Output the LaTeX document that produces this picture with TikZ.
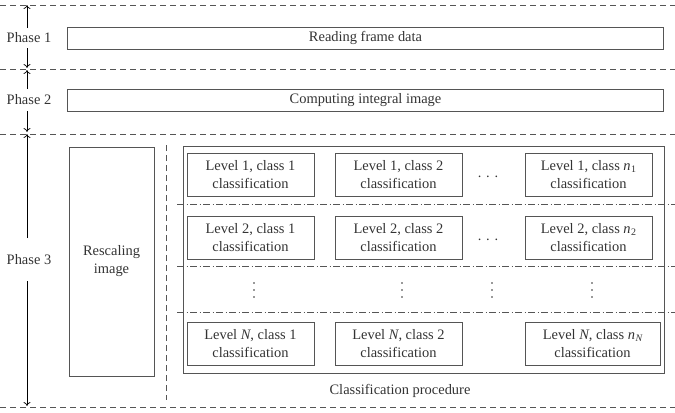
\documentclass[tikz,border=0pt]{standalone}
\usepackage{fontspec}
\setmainfont{Liberation Serif}
\usetikzlibrary{arrows.meta}
\definecolor{ln}{HTML}{555555}
\definecolor{tx}{HTML}{333333}
\tikzset{
  sep/.style={draw=ln, line width=0.9bp, dash pattern=on 6bp off 4bp},
  dd/.style={draw=ln, line width=0.9bp, dash pattern=on 7bp off 2.5bp on 1bp off 2.5bp},
  vsep/.style={draw=ln, line width=1bp, dash pattern=on 6bp off 4bp},
  bar/.style={draw=ln, line width=1bp, minimum height=22bp, inner sep=0pt, text=tx},
  cbox/.style={draw=ln, line width=1bp, minimum height=43bp, inner sep=0pt, text=tx, align=center, minimum width=127bp},
  lbl/.style={text=tx, inner sep=1bp},
  arr/.style={draw=black, line width=0.7bp, -{To[length=4bp,width=7bp]}},
  dotz/.style={text=tx, inner sep=0pt},
  vd/.style={fill=tx, draw=none}
}
\begin{document}
\begin{tikzpicture}[x=1bp,y=-1bp,font=\fontsize{14.5}{18}\selectfont]
\useasboundingbox (0,0) rectangle (675,412);
% separators
\coordinate (s0l) at (0,5); \coordinate (s0r) at (675,5);
\coordinate (s1l) at (0,69); \coordinate (s1r) at (675,69);
\coordinate (s2l) at (0,134); \coordinate (s2r) at (675,134);
\coordinate (s3l) at (0,407); \coordinate (s3r) at (675,407);
\draw[sep] (s0l) -- (s0r);
\draw[sep] (s1l) -- (s1r);
\draw[sep] (s2l) -- (s2r);
\draw[sep] (s3l) -- (s3r);
% phase labels
\node[lbl] (p1) at (29,38) {Phase 1};
\node[lbl] (p2) at (29,100) {Phase 2};
\node[lbl] (p3) at (29,260) {Phase 3};
\coordinate (a1t) at (27,5); \coordinate (a1b) at (27,68);
\coordinate (a2t) at (27,70); \coordinate (a2b) at (27,132);
\coordinate (a3t) at (27,134); \coordinate (a3b) at (27,406);
\coordinate (a1s) at (27,28); \coordinate (a1e) at (27,48);
\coordinate (a2s) at (27,89); \coordinate (a2e) at (27,111);
\coordinate (a3s) at (27,238); \coordinate (a3e) at (27,281);
\draw[arr] (a1s) -- (a1t);
\draw[arr] (a1e) -- (a1b);
\draw[arr] (a2s) -- (a2t);
\draw[arr] (a2e) -- (a2b);
\draw[arr] (a3s) -- (a3t);
\draw[arr] (a3e) -- (a3b);
% phase bars
\node[bar, minimum width=595bp] (rf) at (365.5,38) {Reading frame data};
\node[bar, minimum width=595bp] (ci) at (365.5,100) {Computing integral image};
% rescaling
\node[draw=ln, line width=1bp, minimum width=85bp, minimum height=229bp, inner sep=0pt, text=tx, align=center] (rs) at (111.5,261.5) {Rescaling\\image};
% vertical dashed
\coordinate (vt) at (166,145); \coordinate (vb) at (166,400);
\draw[vsep] (vt) -- (vb);
% classification outer box
\node[draw=ln, line width=1bp, minimum width=481bp, minimum height=227bp, inner sep=0pt] (cp) at (423.5,259.5) {};
\node[lbl] (cpl) at (400,391) {Classification procedure};
% dash-dot rows
\coordinate (d1l) at (177,204); \coordinate (d1r) at (675,204);
\coordinate (d2l) at (177,266); \coordinate (d2r) at (675,266);
\coordinate (d3l) at (177,312); \coordinate (d3r) at (675,312);
\draw[dd] (d1l) -- (d1r);
\draw[dd] (d2l) -- (d2r);
\draw[dd] (d3l) -- (d3r);
% boxes
\node[cbox] (b11) at (250.5,174.5) {Level 1, class 1\\classification};
\node[cbox] (b12) at (398.5,174.5) {Level 1, class 2\\classification};
\node[cbox] (b13) at (588.5,174.5) {Level 1, class \textit{n}\kern0.5pt\raisebox{-0.25ex}{\fontsize{10}{10}\selectfont 1}\\classification};
\node[cbox] (b21) at (250.5,238) {Level 2, class 1\\classification};
\node[cbox] (b22) at (398.5,238) {Level 2, class 2\\classification};
\node[cbox] (b23) at (588.5,238) {Level 2, class \textit{n}\kern0.5pt\raisebox{-0.25ex}{\fontsize{10}{10}\selectfont 2}\\classification};
\node[cbox] (bN1) at (250.5,344) {Level \textit{N}, class 1\\classification};
\node[cbox] (bN2) at (398.5,344) {Level \textit{N}, class 2\\classification};
\node[cbox, minimum width=135bp] (bN3) at (592.5,344) {Level \textit{N}, class \textit{n}\kern0.5pt\raisebox{-0.25ex}{\fontsize{10}{10}\selectfont\itshape N}\\classification};
% dots
\node[dotz] (h1) at (488,177) {.\,\,.\,\,.};
\node[dotz] (h2) at (488,240) {.\,\,.\,\,.};
\foreach \x in {254,402,492,592}{
  \fill[vd] (\x,283) circle (0.9);
  \fill[vd] (\x,290) circle (0.9);
  \fill[vd] (\x,297) circle (0.9);
}
\end{tikzpicture}
\end{document}
